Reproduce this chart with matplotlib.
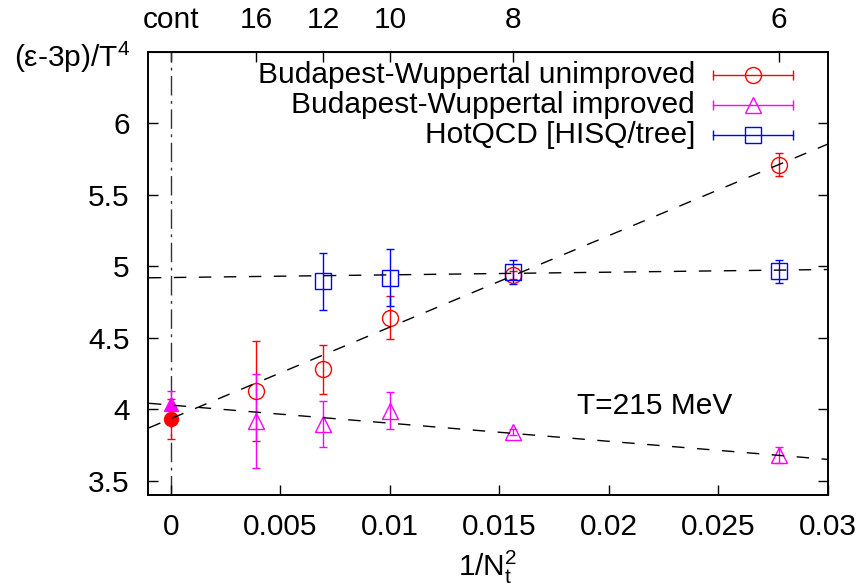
import matplotlib
matplotlib.use("Agg")
import matplotlib.pyplot as plt

plt.rcParams['font.family'] = ['Liberation Sans', 'DejaVu Sans']
plt.rcParams['mathtext.fontset'] = 'custom'
plt.rcParams['mathtext.rm'] = 'Liberation Sans'
plt.rcParams['mathtext.it'] = 'Liberation Sans'

# lattice sizes and their 1/Nt^2 positions
nt_labels = ['cont', '16', '12', '10', '8', '6']
nt_x = [0.0, 1 / 256, 1 / 144, 1 / 100, 1 / 64, 1 / 36]

# Budapest-Wuppertal unimproved (Nt = 16, 12, 10, 8, 6)
bw_unimp_x = [1 / 256, 1 / 144, 1 / 100, 1 / 64, 1 / 36]
bw_unimp_y = [4.13, 4.28, 4.64, 4.94, 5.71]
bw_unimp_err = [0.35, 0.17, 0.15, 0.03, 0.08]
bw_unimp_cont = 3.93
bw_unimp_cont_err = 0.14

# Budapest-Wuppertal improved
bw_imp_x = [1 / 256, 1 / 144, 1 / 100, 1 / 64, 1 / 36]
bw_imp_y = [3.92, 3.895, 3.99, 3.84, 3.68]
bw_imp_err = [0.33, 0.16, 0.13, 0.02, 0.055]
bw_imp_cont = 4.04
bw_imp_cont_err = 0.09

# HotQCD [HISQ/tree] (Nt = 12, 10, 8, 6)
hot_x = [1 / 144, 1 / 100, 1 / 64, 1 / 36]
hot_y = [4.895, 4.92, 4.96, 4.965]
hot_err = [0.2, 0.2, 0.085, 0.08]

# continuum fits, values at the plot edges
fit_x = [-0.001, 0.03]
fit_unimp = [3.87, 5.856]
fit_imp = [4.042, 3.649]
fit_hot = [4.92, 4.978]

red = '#ff0000'
mag = '#ff00ff'
blue = '#0000ff'
fs = 21.5

fig = plt.figure(figsize=(8.65, 5.87), dpi=100)
ax = fig.add_axes([0.1708, 0.1567, 0.7864, 0.7547])

ax.plot([0, 0], [3.4, 6.5], color='#333333', lw=1, linestyle=(0, (14, 4, 2, 4)), zorder=1)

for fy in [fit_unimp, fit_imp, fit_hot]:
    ax.plot(fit_x, fy, color='k', lw=1, dashes=(9, 9), zorder=4)

eb = dict(capsize=3, elinewidth=1, capthick=1, markersize=11.5, mew=1, mfc='none', linestyle='none', zorder=3)
ax.errorbar(bw_unimp_x, bw_unimp_y, yerr=bw_unimp_err, fmt='o', color=red, **eb)
ax.errorbar(bw_imp_x, bw_imp_y, yerr=bw_imp_err, fmt='^', color=mag, **eb)
ax.errorbar(hot_x, hot_y, yerr=hot_err, fmt='s', color=blue, **eb)
ax.errorbar([0], [bw_imp_cont], yerr=[bw_imp_cont_err], fmt='^', color=mag, capsize=3,
            elinewidth=1, markersize=10, zorder=3)
ax.errorbar([0], [bw_unimp_cont], yerr=[bw_unimp_cont_err], fmt='o', color=red, capsize=3,
            elinewidth=1, markersize=10, zorder=3)

ax.set_xlim(-0.00105, 0.03)
ax.set_ylim(3.4, 6.5)
ax.set_xticks([0, 0.005, 0.01, 0.015, 0.02, 0.025, 0.03])
ax.set_xticklabels(['0', '0.005', '0.01', '0.015', '0.02', '0.025', '0.03'])
ax.set_yticks([3.5, 4, 4.5, 5, 5.5, 6])
ax.set_yticklabels(['3.5', '4', '4.5', '5', '5.5', '6'])
ax.tick_params(axis='x', direction='in', length=7, width=1, labelsize=fs, pad=13, top=False)
ax.tick_params(axis='y', direction='in', length=7, width=1, labelsize=fs, pad=13, right=True)
for s in ax.spines.values():
    s.set_linewidth(1.4)

top = ax.secondary_xaxis('top')
top.set_xticks(nt_x)
top.set_xticklabels(nt_labels)
top.tick_params(direction='in', length=7, width=1, labelsize=fs, pad=13)

# legend, gnuplot style
labels = ['Budapest-Wuppertal unimproved', 'Budapest-Wuppertal improved', 'HotQCD [HISQ/tree]']
colors = [red, mag, blue]
markers = ['o', '^', 's']
rows = [0.948, 0.881, 0.813]
for lab, c, m, yy in zip(labels, colors, markers, rows):
    ax.text(0.8045, yy, lab, transform=ax.transAxes, ha='right', va='center', fontsize=fs)
    ax.plot([0.8309, 0.9482], [yy, yy], color=c, lw=1, transform=ax.transAxes)
    ax.plot([0.8309, 0.9482], [yy, yy], color=c, linestyle='none', marker='|', markersize=7,
            mew=1, transform=ax.transAxes)
    ax.plot([0.8898], [yy], color=c, marker=m, markersize=11.5, mfc='none', mew=1,
            transform=ax.transAxes)

ax.text(0.745, 0.201, 'T=215 MeV', transform=ax.transAxes, ha='center', va='center', fontsize=fs)

fig.text(0.083, 0.903, '(\u03b5-3p)/T$^{4}$', ha='center', va='center', fontsize=fs)
fig.text(0.5635, 0.034, '1/N$_{t}^{2}$', ha='center', va='center', fontsize=fs)

fig.savefig('out.png', dpi=100)
